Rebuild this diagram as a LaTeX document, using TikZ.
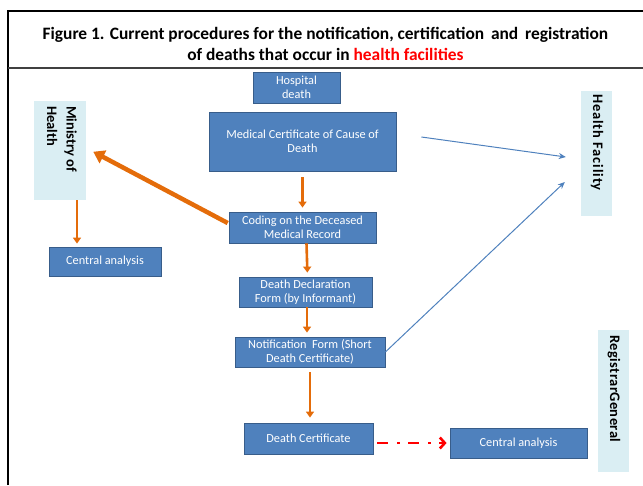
\documentclass[tikz,border=0pt]{standalone}
\usepackage{fontspec}
\setmainfont{Carlito}
\usetikzlibrary{arrows.meta}
\definecolor{boxblue}{HTML}{4F81BD}
\definecolor{boxedge}{HTML}{385D8A}
\definecolor{lightbox}{HTML}{DAEEF3}
\definecolor{arrorange}{HTML}{E46C0A}
\definecolor{arrblue}{HTML}{4F81BD}
\definecolor{redarr}{HTML}{FF0000}
\tikzset{
  bluebox/.style={draw=boxedge, line width=0.8pt, fill=boxblue, text=white, font=\fontsize{12.3}{14}\selectfont, align=center, inner sep=0pt},
  lightpanel/.style={fill=lightbox, inner sep=0pt},
  sidetext/.style={rotate=-90, font=\bfseries\fontsize{14.5}{19.5}\selectfont, align=left, inner sep=0pt},
  orangearr/.style={draw=arrorange, line width=2.6pt, -{Triangle[length=6pt,width=8pt]}},
  bigorange/.style={draw=arrorange, line width=4.5pt, -{Triangle[length=11pt,width=14pt]}},
  bluearr/.style={draw=arrblue, line width=1pt, -{Stealth[length=7pt,width=6pt]}},
  reddash/.style={draw=redarr, line width=2.6pt, dash pattern=on 11pt off 9pt on 3pt off 8pt, -{Straight Barb[length=5pt,width=11pt,line width=2.6pt]}},
  frameline/.style={draw=black, line width=2.6pt}
}
\begin{document}
\begin{tikzpicture}[x=1pt,y=1pt]
\useasboundingbox (0,0) rectangle (643,-485);
% frame
\draw[frameline] (8,-485) -- (8,-11) -- (643,-11);
\draw[draw=black!75, line width=1.8pt] (8,-68) -- (643,-68);
\node[font=\bfseries\fontsize{17.4}{21}\selectfont, align=center] (title) at (325.5,-44)
  {Figure 1. Current procedures for the notification, certification\, and\, registration\\of deaths that occur in \textcolor{redarr}{health facilities}};
% side panels
\node[lightpanel, minimum width=52pt, minimum height=99pt] (ministry) at (60,-150.5) {};
\node[sidetext, anchor=north west] (ministrytxt) at (77,-106) {Ministry of\\Health};
\node[lightpanel, minimum width=31pt, minimum height=125pt] (hf) at (596.5,-153.5) {};
\node[sidetext, anchor=north west] (hftxt) at (603.5,-94) {\addfontfeature{LetterSpace=6}Health Facility};
\node[lightpanel, minimum width=31pt, minimum height=142pt] (rg) at (613.5,-401) {};
\node[sidetext, anchor=north west] (rgtxt) at (620.5,-335) {\addfontfeature{LetterSpace=3}RegistrarGeneral};
% blue boxes
\node[bluebox, minimum width=87pt, minimum height=31pt] (hosp) at (296.5,-87.5) {Hospital\\death};
\node[bluebox, minimum width=187pt, minimum height=59pt] (medcert) at (302.5,-141.5) {Medical Certificate of Cause of\\Death};
\node[bluebox, minimum width=147pt, minimum height=31pt] (coding) at (302.5,-227.5) {Coding on the Deceased\\Medical Record};
\node[bluebox, minimum width=133pt, minimum height=30pt] (decl) at (305.5,-292) {Death Declaration\\Form (by Informant)};
\node[bluebox, minimum width=150pt, minimum height=30pt] (notif) at (310,-352) {Notification\ \ Form (Short\\Death Certificate)};
\node[bluebox, minimum width=129pt, minimum height=31pt] (dcert) at (308.5,-438.5) {Death Certificate};
\node[bluebox, minimum width=112pt, minimum height=29pt] (caL) at (105,-261.5) {Central analysis};
\node[bluebox, minimum width=137pt, minimum height=30pt] (caR) at (518.5,-443) {Central analysis};
% connectors
\draw[bigorange, shorten <=1pt, shorten >=8pt] ([yshift=4pt]coding.west) -- ([yshift=2.5pt]ministry.east);
\draw[orangearr, shorten >=3pt] ([xshift=17pt]ministry.south) -- ([xshift=17pt]ministry.south |- caL.north);
\draw[orangearr, shorten <=6pt, shorten >=4pt] (medcert.south) -- (coding.north);
\draw[orangearr, shorten >=4pt] ([xshift=4pt]coding.south) -- ([xshift=2pt]decl.north);
\draw[orangearr, shorten >=4pt] ([xshift=1.5pt]decl.south) -- ([xshift=-3pt]notif.north);
\draw[orangearr, shorten <=5pt, shorten >=5pt] (notif.south) -- (notif.south |- dcert.north);
\draw[bluearr] ([xshift=25pt,yshift=4.5pt]medcert.east) -- ([xshift=-15pt,yshift=-3.5pt]hf.west);
\draw[bluearr] (notif.east) -- ([xshift=-16pt,yshift=-28.5pt]hf.west);
\draw[reddash, shorten >=3pt] ([xshift=4pt,yshift=-4.5pt]dcert.east) -- ([yshift=-4.5pt]dcert.east -| caR.west);
\end{tikzpicture}
\end{document}
